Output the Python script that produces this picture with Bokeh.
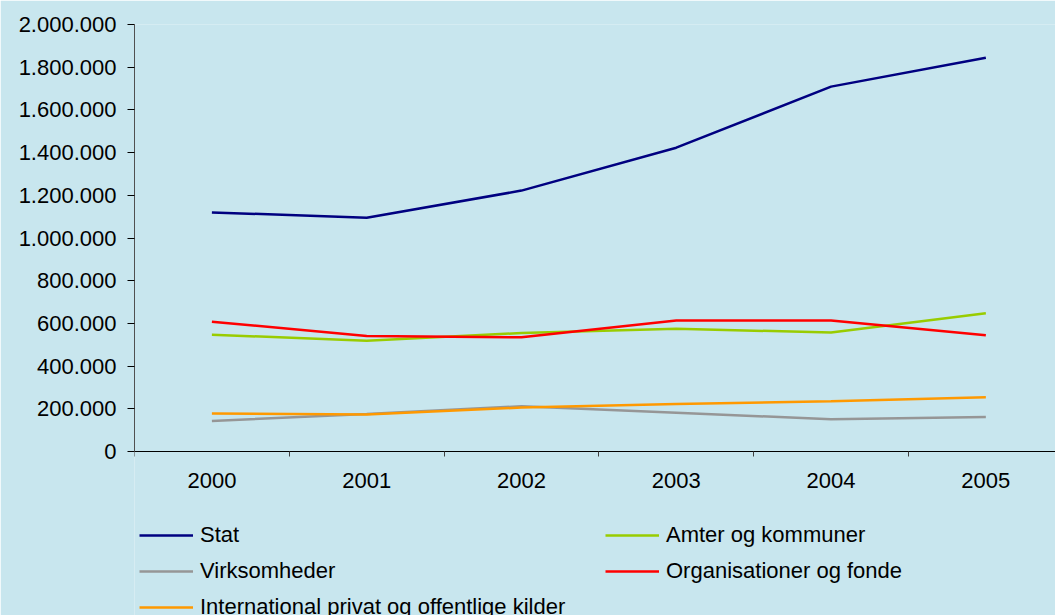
from bokeh.plotting import figure
from bokeh.models import Range1d, FixedTicker, Legend, LegendItem, LinearAxis
from bokeh.embed import file_html
from bokeh.resources import INLINE

years = ["2000", "2001", "2002", "2003", "2004", "2005"]
stat = [1120000, 1095000, 1222000, 1423000, 1709000, 1844000]
amter = [547000, 519000, 555000, 575000, 557000, 648000]
virksomheder = [143000, 176000, 212000, 182000, 151000, 162000]
organisationer = [608000, 541000, 535000, 614000, 614000, 545000]
international = [178000, 173000, 206000, 223000, 235000, 254000]

series_names = ["Stat", "Amter og kommuner", "Virksomheder",
                "Organisationer og fonde", "International privat og offentlige kilder"]
series_values = [stat, amter, virksomheder, organisationer, international]
series_colors = ["#000080", "#99CC00", "#969696", "#FF0000", "#FF9900"]

y_ticks = [0, 200000, 400000, 600000, 800000, 1000000, 1200000, 1400000,
           1600000, 1800000, 2000000]
y_tick_labels = ["0", "200.000", "400.000", "600.000", "800.000", "1.000.000",
                 "1.200.000", "1.400.000", "1.600.000", "1.800.000", "2.000.000"]

BG = "#C8E6EE"
FONT = "Liberation Sans"

xs = [i + 0.5 for i in range(len(years))]

# frame spans from y=24 to the bottom of the page (615); value 0 sits at y=451
top_px, zero_px, bottom_px = 24, 451, 615
y_max = 2000000
y_min = -(bottom_px - zero_px) / (zero_px - top_px) * y_max

p = figure(width=1055, height=615, output_backend="svg", toolbar_location=None,
           x_range=Range1d(0, 5.95), y_range=Range1d(y_min, y_max),
           x_axis_location=None,
           min_border_left=134, min_border_right=0, min_border_top=top_px,
           min_border_bottom=0)
p.background_fill_color = BG
p.border_fill_color = BG
p.outline_line_color = None
p.xgrid.visible = False
p.ygrid.visible = False

renderers = []
for name, vals, col in zip(series_names, series_values, series_colors):
    r = p.line(xs, vals, line_color=col, line_width=2.5)
    renderers.append((name, r))

# x axis placed at value 0 inside the frame
xa = LinearAxis(fixed_location=0)
xa.ticker = FixedTicker(ticks=xs, minor_ticks=list(range(len(years))))
xa.major_label_overrides = {x: y for x, y in zip(xs, years)}
xa.major_tick_out = 0
xa.major_tick_in = 0
xa.minor_tick_out = 5
xa.minor_tick_in = 0
xa.minor_tick_line_color = "#404040"
xa.axis_line_color = "#000000"
xa.major_label_standoff = 16
xa.major_label_text_font = FONT
xa.major_label_text_font_size = "22px"
xa.major_label_text_color = "#000000"
p.add_layout(xa, "below")

# y axis
ya = p.yaxis[0]
ya.bounds = (0, y_max)
ya.ticker = FixedTicker(ticks=y_ticks, minor_ticks=[])
ya.major_label_overrides = {t: l for t, l in zip(y_ticks, y_tick_labels)}
ya.major_tick_out = 7
ya.major_tick_in = 0
ya.major_tick_line_color = "#000000"
ya.axis_line_color = "#505050"
ya.major_label_standoff = 11
ya.major_label_text_font = FONT
ya.major_label_text_font_size = "22px"
ya.major_label_text_color = "#000000"

# legend fills column by column: left column Stat / Virksomheder / International,
# right column Amter / Organisationer
order = [0, 2, 4, 1, 3]
legend = Legend(items=[LegendItem(label=renderers[i][0], renderers=[renderers[i][1]])
                       for i in order],
                ncols=2, location=(5, -5))
legend.background_fill_alpha = 0
legend.border_line_color = None
legend.padding = 0
legend.margin = 0
legend.spacing = 10
legend.glyph_width = 54
legend.glyph_height = 20
legend.label_standoff = 7
legend.label_width = 395
legend.label_text_font = FONT
legend.label_text_font_size = "22px"
legend.label_text_color = "#000000"
p.add_layout(legend, "center")

open("out.html", "w").write(file_html(p, INLINE))
